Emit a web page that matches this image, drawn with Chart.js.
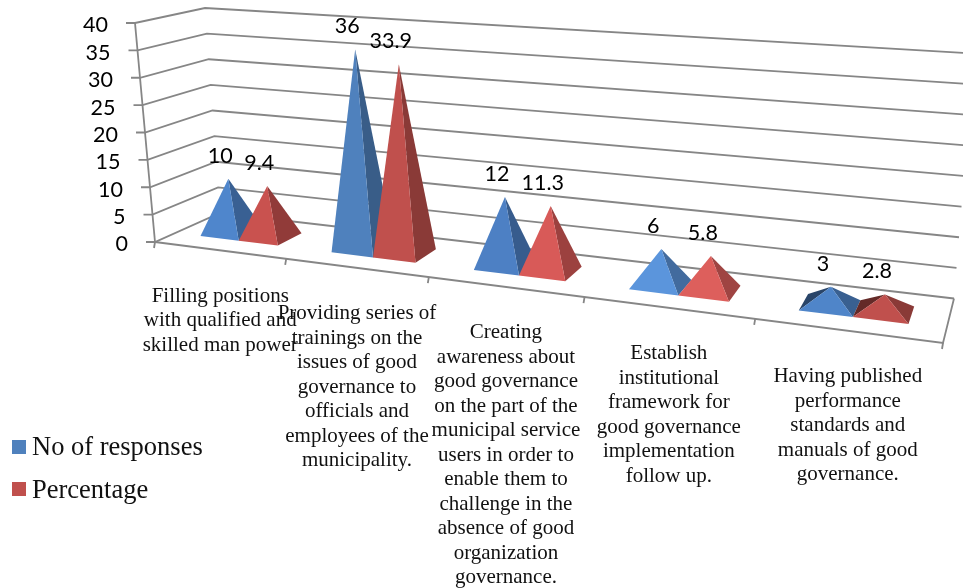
<!DOCTYPE html>
<html>
<head>
<meta charset="utf-8">
<title>Good governance responses</title>
<script src="https://cdn.jsdelivr.net/npm/chart.js@4/dist/chart.umd.min.js"></script>
<style>
    html, body { margin: 0; padding: 0; background: #fff; }
    canvas { display: block; }
</style>
</head>
<body>
<canvas id="chart" width="963" height="588"></canvas>
<script>
// Chart data
const categories = [
    ["Filling positions", "with qualified and", "skilled man power"],
    ["Providing series of", "trainings on the", "issues of good", "governance to", "officials and", "employees of the", "municipality."],
    ["Creating", "awareness about", "good governance", "on the part of the", "municipal service", "users in order to", "enable them to", "challenge in the", "absence of good", "organization", "governance."],
    ["Establish", "institutional", "framework for", "good governance", "implementation", "follow up."],
    ["Having published", "performance", "standards and", "manuals of good", "governance."]
];
const responses = [10, 36, 12, 6, 3];
const percentage = [9.4, 33.9, 11.3, 5.8, 2.8];
const yTicks = [0, 5, 10, 15, 20, 25, 30, 35, 40];

// Front face colour of each pyramid
const blueFaces = ["#4f86cc", "#4f81bd", "#4d80c4", "#5b95dc", "#4f85c9"];
const redFaces = ["#c9524f", "#c0504d", "#d85a58", "#dd5f5c", "#c0504d"];

// Floor of the box the flat chart area gets bent onto, and how far
// the full value range rises at each of its corners
const floorCorners = [[155, 242], [943, 343], [954, 298.5], [220, 213]];
const riseFrontLeft = [-20, -219];
const riseFrontRight = [19, -258];
const riseBackRight = [20, -245];
const riseBackLeft = [-15, -205];
const GRID_COLOR = "#868686";
const DEPTH_FRONT = 0.3;
const DEPTH_BACK = 0.7;

// Unit square -> quadrilateral, perspective correct
function quadMap(c) {
    const [p00, p10, p11, p01] = c;
    const sx = p00[0] - p10[0] + p11[0] - p01[0];
    const sy = p00[1] - p10[1] + p11[1] - p01[1];
    const dx1 = p10[0] - p11[0], dx2 = p01[0] - p11[0];
    const dy1 = p10[1] - p11[1], dy2 = p01[1] - p11[1];
    const den = dx1 * dy2 - dx2 * dy1;
    const g = (sx * dy2 - dx2 * sy) / den;
    const h = (dx1 * sy - sx * dy1) / den;
    return function(u, v) {
        const z = g * u + h * v + 1;
        return [
            ((p10[0] - p00[0] + g * p10[0]) * u + (p01[0] - p00[0] + h * p01[0]) * v + p00[0]) / z,
            ((p10[1] - p00[1] + g * p10[1]) * u + (p01[1] - p00[1] + h * p01[1]) * v + p00[1]) / z
        ];
    };
}

const floorMap = quadMap(floorCorners);

function lerp(a, b, t) {
    return a + (b - a) * t;
}

// Flat chart pixel plus a depth (0 front, 1 back) -> picture position
function project(chart, px, py, depth) {
    const area = chart.chartArea;
    const u = (px - area.left) / area.width;
    const w = (area.bottom - py) / area.height;
    const p = floorMap(u, depth);
    const leftEnd = floorMap(0, depth);
    const rightEnd = floorMap(1, depth);
    // Rise changes with the position on screen so lines stay straight
    const t = (p[0] - leftEnd[0]) / (rightEnd[0] - leftEnd[0]);
    const riseX = lerp(lerp(riseFrontLeft[0], riseBackLeft[0], depth), lerp(riseFrontRight[0], riseBackRight[0], depth), t);
    const riseY = lerp(lerp(riseFrontLeft[1], riseBackLeft[1], depth), lerp(riseFrontRight[1], riseBackRight[1], depth), t);
    return [p[0] + riseX * w, p[1] + riseY * w];
}

function polyline(ctx, points) {
    ctx.beginPath();
    points.forEach(function(p, i) {
        if (i === 0) ctx.moveTo(p[0], p[1]);
        else ctx.lineTo(p[0], p[1]);
    });
}

function shade(color, factor) {
    const n = parseInt(color.slice(1), 16);
    const r = Math.round((n >> 16 & 255) * factor);
    const g = Math.round((n >> 8 & 255) * factor);
    const b = Math.round((n & 255) * factor);
    return "rgb(" + r + "," + g + "," + b + ")";
}

function drawFrame(chart) {
    const ctx = chart.ctx;
    const area = chart.chartArea;
    const yScale = chart.scales.y;
    const xScale = chart.scales.x;

    ctx.save();
    ctx.strokeStyle = GRID_COLOR;
    ctx.lineWidth = 1.8;

    // Grid lines along the side wall and the back wall, with axis ticks
    yScale.ticks.forEach(function(tick) {
        const y = yScale.getPixelForValue(tick.value);
        const front = project(chart, area.left, y, 0);
        polyline(ctx, [
            [front[0] - 9, front[1]],
            front,
            project(chart, area.left, y, 1),
            project(chart, area.right, y, 1)
        ]);
        ctx.stroke();
    });

    // Value axis edge
    polyline(ctx, [
        project(chart, area.left, area.top, 0),
        project(chart, area.left, area.bottom, 0)
    ]);
    ctx.stroke();

    // Floor outline
    polyline(ctx, [
        project(chart, area.left, area.bottom, 0),
        project(chart, area.right, area.bottom, 0),
        project(chart, area.right, area.bottom, 1)
    ]);
    ctx.stroke();

    // Ticks between the categories
    for (let i = 0; i <= categories.length; i++) {
        const p = project(chart, area.left + xScale.width * i / categories.length, area.bottom, 0);
        polyline(ctx, [p, [p[0] - 1, p[1] + 6]]);
        ctx.stroke();
    }

    // Value axis labels
    ctx.fillStyle = "#000";
    ctx.font = "21.5px Lato";
    ctx.textAlign = "right";
    ctx.textBaseline = "middle";
    yScale.ticks.forEach(function(tick) {
        const p = project(chart, area.left, yScale.getPixelForValue(tick.value), 0);
        ctx.fillText(String(tick.value), p[0] - 27, p[1] + 2.5);
    });
    ctx.restore();
}

function drawPyramid(chart, bar, color) {
    const ctx = chart.ctx;
    const left = bar.x - bar.width / 2;
    const right = bar.x + bar.width / 2;
    const base = [
        project(chart, left, bar.base, DEPTH_FRONT),
        project(chart, right, bar.base, DEPTH_FRONT),
        project(chart, right, bar.base, DEPTH_BACK),
        project(chart, left, bar.base, DEPTH_BACK)
    ];
    const apex = project(chart, bar.x, bar.y, (DEPTH_FRONT + DEPTH_BACK) / 2);
    const fills = [color, shade(color, 0.72), shade(color, 0.6), shade(color, 0.52)];

    // Go round the base and only paint the faces turned to the viewer
    [2, 3, 1, 0].forEach(function(i) {
        const a = base[i];
        const b = base[(i + 1) % 4];
        const cross = (b[0] - a[0]) * (apex[1] - a[1]) - (b[1] - a[1]) * (apex[0] - a[0]);
        if (cross >= 0) return;
        polyline(ctx, [a, b, apex]);
        ctx.closePath();
        ctx.fillStyle = fills[i];
        ctx.fill();
    });
    return apex;
}

const pyramidPlugin = {
    id: "pyramids",
    // Hide the flat bars, their geometry still feeds the pyramids
    beforeDatasetDraw: function() {
        return false;
    },
    beforeDatasetsDraw: function(chart) {
        drawFrame(chart);
    },
    afterDatasetsDraw: function(chart) {
        const ctx = chart.ctx;
        const area = chart.chartArea;
        const apexes = [];

        chart.data.labels.forEach(function(label, index) {
            chart.data.datasets.forEach(function(dataset, d) {
                const bar = chart.getDatasetMeta(d).data[index];
                apexes.push({
                    point: drawPyramid(chart, bar, dataset.backgroundColor[index]),
                    text: String(dataset.data[index])
                });
            });
        });

        ctx.save();
        ctx.fillStyle = "#000";
        ctx.textAlign = "center";
        ctx.textBaseline = "middle";

        // Value labels over the tips
        ctx.font = "21.5px Lato";
        apexes.forEach(function(a) {
            ctx.fillText(a.text, a.point[0] - 8, a.point[1] - 23);
        });

        // Category labels follow the front edge of the floor
        ctx.font = "21px 'Liberation Serif'";
        ctx.fillStyle = "#111";
        chart.data.labels.forEach(function(lines, index) {
            const p = project(chart, chart.scales.x.getPixelForValue(index), area.bottom, 0);
            lines.forEach(function(line, n) {
                ctx.fillText(line, p[0] + 1, p[1] + 46 + n * 24.5);
            });
        });

        // Legend
        ctx.textAlign = "left";
        ctx.font = "26.5px 'Liberation Serif'";
        chart.data.datasets.forEach(function(dataset, d) {
            const y = 447 + d * 42;
            ctx.fillStyle = dataset.legendColor;
            ctx.fillRect(12, y - 7, 14, 14);
            ctx.fillStyle = "#111";
            ctx.fillText(dataset.label, 32, y + 1.5 + d);
        });
        ctx.restore();
    }
};

new Chart(document.getElementById("chart"), {
    type: "bar",
    data: {
        labels: categories,
        datasets: [
            { label: "No of responses", data: responses, backgroundColor: blueFaces, legendColor: "#4f81bd" },
            { label: "Percentage", data: percentage, backgroundColor: redFaces, legendColor: "#c0504d" }
        ]
    },
    options: {
        responsive: false,
        animation: false,
        layout: { padding: 0 },
        categoryPercentage: 0.6,
        barPercentage: 1,
        plugins: {
            legend: { display: false },
            tooltip: { enabled: false },
            title: { display: false }
        },
        scales: {
            x: { display: false },
            y: {
                display: false,
                min: yTicks[0],
                max: yTicks[yTicks.length - 1],
                ticks: { stepSize: yTicks[1] - yTicks[0] }
            }
        }
    },
    plugins: [pyramidPlugin]
});
</script>
</body>
</html>
